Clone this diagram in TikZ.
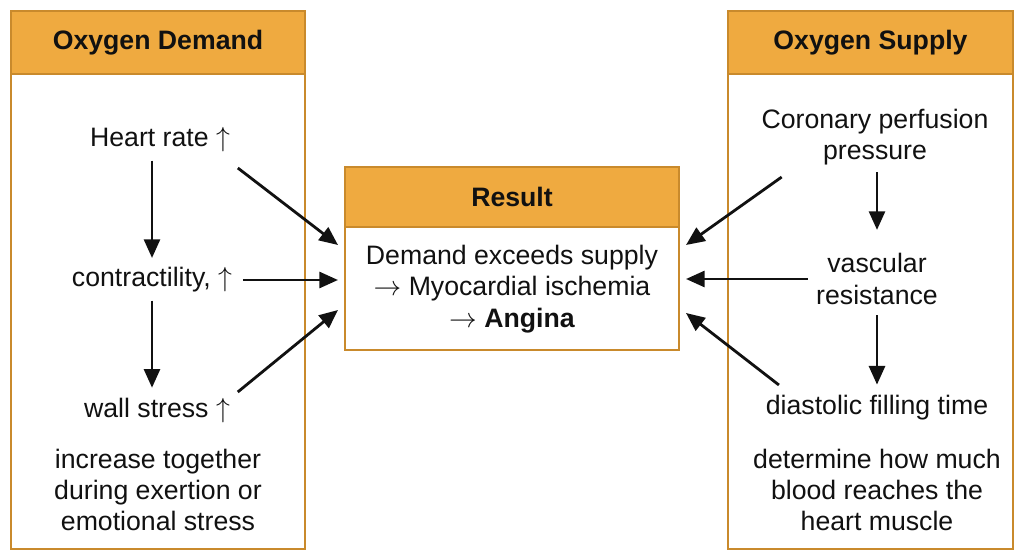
\documentclass[tikz,border=0pt]{standalone}
\usepackage{fontspec}
\setmainfont{Liberation Sans}
\usetikzlibrary{arrows.meta,positioning}
\definecolor{panelink}{HTML}{111111}
\definecolor{paneledge}{HTML}{C98A2C}
\definecolor{panelhead}{HTML}{EFAA40}

\begin{document}
\begin{tikzpicture}[
  x=0.75pt,
  y=-0.75pt,
  every node/.style={font=\fontsize{20}{23.5}\selectfont, text=panelink, align=center, inner sep=2pt},
  panelbox/.style={draw=paneledge, line width=1.8pt, fill=white, outer sep=0pt, inner sep=0pt},
  panelhead/.style={panelbox, fill=panelhead, font=\fontsize{20}{23.5}\selectfont\bfseries},
  flow/.style={draw=panelink, line width=2.1pt, -{Triangle[length=14pt,width=12pt]}}
]
  \useasboundingbox (0,0) rectangle (1024,559);

  % Panel 1: oxygen demand
  \node[panelbox, minimum width=220.5pt, minimum height=403.5pt] (demand) at (158,280) {};
  \node[panelhead, minimum width=220.5pt, minimum height=47.25pt, anchor=north] (demandHead) at (demand.north) {Oxygen Demand};
  \node (heartRate) at (160,140) {Heart rate $\uparrow$};
  \node (contract) at (152,280) {contractility, $\uparrow$};
  \node (wallStress) at (157,411) {wall stress $\uparrow$};
  \node (demandNote) at (158,490) {increase together\\during exertion or\\emotional stress};

  % Panel 2: oxygen supply
  \node[panelbox, minimum width=213.75pt, minimum height=403.5pt] (supply) at (870.5,280) {};
  \node[panelhead, minimum width=213.75pt, minimum height=47.25pt, anchor=north] (supplyHead) at (supply.north) {Oxygen Supply};
  \node (perfusion) at (875,137) {Coronary perfusion\\pressure};
  \node (resistance) at (877,279) {vascular\\resistance};
  \node (filling) at (877,408) {diastolic filling time};
  \node (supplyNote) at (877,490) {determine how much\\blood reaches the\\heart muscle};

  % Panel 3: result
  \node[panelbox, minimum width=250.5pt, minimum height=137.25pt] (result) at (512,258.5) {};
  \node[panelhead, minimum width=250.5pt, minimum height=45pt, anchor=north] (resultHead) at (result.north) {Result};
  \node (resultText) at (512,289) {Demand exceeds supply\\$\rightarrow$ Myocardial ischemia\\$\rightarrow$ \textbf{Angina}};

  % demand chain
  \draw[flow, shorten <=4pt, shorten >=5pt] (heartRate.south -| contract.north) -- (contract.north);
  \draw[flow, shorten <=4pt, shorten >=6pt] (contract.south) -- (wallStress.north -| contract.south);
  \draw[flow] ([shift={(5,28)}]heartRate.east) -- ([shift={(-7,-13.5)}]result.west);
  \draw[flow, shorten <=6pt] (contract.east) -- ([shift={(-7,21.5)}]result.west);
  \draw[flow] ([shift={(5,-19)}]wallStress.east) -- ([shift={(-7,51.5)}]result.west);

  % supply chain
  \draw[flow, shorten <=3pt, shorten >=15.5pt] (perfusion.south -| resistance.north) -- (resistance.north);
  \draw[flow, shorten <=6pt, shorten >=6pt] (resistance.south) -- (filling.north -| resistance.south);
  \draw[flow] ([shift={(23,9)}]perfusion.south west) -- ([shift={(7,-13.5)}]result.east);
  \draw[flow, shorten <=4pt] (resistance.west) -- ([shift={(7,20.5)}]result.east);
  \draw[flow] ([shift={(16,-23)}]filling.west) -- ([shift={(7,54.5)}]result.east);
\end{tikzpicture}
\end{document}
